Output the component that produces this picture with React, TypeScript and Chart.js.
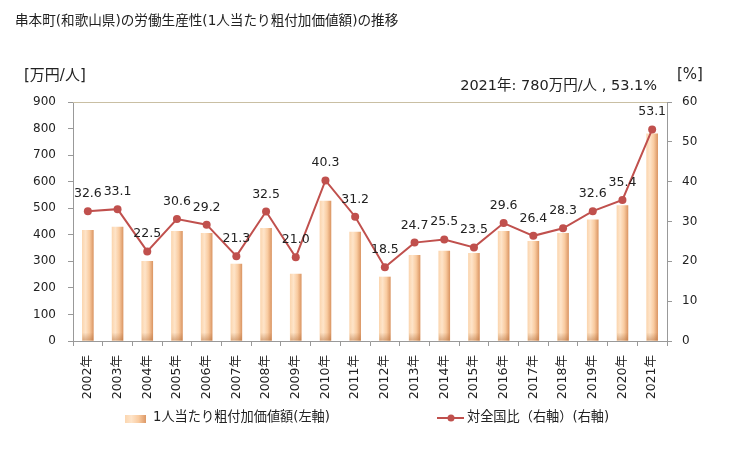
import React, { useEffect, useRef } from "react";
import { Chart, registerables } from "chart.js";

Chart.register(...registerables);

const years = ["2002年","2003年","2004年","2005年","2006年","2007年","2008年","2009年","2010年","2011年","2012年","2013年","2014年","2015年","2016年","2017年","2018年","2019年","2020年","2021年"];
const productivity = [417, 429, 300, 413, 405, 290, 424, 252, 527, 410, 241, 323, 339, 330, 413, 375, 405, 456, 510, 780];
const ratio = [32.6, 33.1, 22.5, 30.6, 29.2, 21.3, 32.5, 21.0, 40.3, 31.2, 18.5, 24.7, 25.5, 23.5, 29.6, 26.4, 28.3, 32.6, 35.4, 53.1];
const leftTicks = [0, 100, 200, 300, 400, 500, 600, 700, 800, 900];
const rightTicks = [0, 10, 20, 30, 40, 50, 60];

const titleText = "串本町(和歌山県)の労働生産性(1人当たり粗付加価値額)の推移";
const leftUnit = "[万円/人]";
const rightUnit = "[%]";
const noteText = "2021年: 780万円/人 , 53.1%";
const barLegend = "1人当たり粗付加価値額(左軸)";
const lineLegend = "対全国比（右軸）(右軸)";

const FONT = '"DejaVu Sans", "Noto Sans CJK JP", sans-serif';
const LINE_COLOR = "#c0504d";
const BAR_W = 11;

function barGradient(ctx: CanvasRenderingContext2D, x0: number, x1: number) {
  const g = ctx.createLinearGradient(x0, 0, x1, 0);
  g.addColorStop(0, "#fbd6b0");
  g.addColorStop(0.3, "#fee4c9");
  g.addColorStop(0.65, "#f9cba0");
  g.addColorStop(1, "#dc9866");
  return g;
}

export default function App() {
  const ref = useRef<HTMLCanvasElement | null>(null);

  useEffect(() => {
    document.body.style.margin = "0";
    const canvas = ref.current!;
    const overlay = {
      id: "overlay",
      afterDatasetDraw(chart: any, args: any) {
        if (args.index !== 1) return;
        const ctx = chart.ctx;
        const meta = chart.getDatasetMeta(1);
        ctx.save();
        meta.data.forEach((el: any) => {
          const x = el.x;
          const base = el.base;
          const top = el.y;
          if (!isFinite(x) || !isFinite(base) || !isFinite(top)) return;
          const h = Math.min(8, base - top);
          if (h <= 0) return;
          const g = ctx.createLinearGradient(0, base - h, 0, base);
          g.addColorStop(0, "rgba(170,100,50,0)");
          g.addColorStop(1, "rgba(170,100,50,0.45)");
          ctx.fillStyle = g;
          ctx.fillRect(x - BAR_W / 2, base - h, BAR_W, h);
        });
        ctx.restore();
      },
      afterDatasetsDraw(chart: any) {
        const ctx = chart.ctx;
        const meta = chart.getDatasetMeta(0);
        ctx.save();
        ctx.font = "12.5px " + FONT;
        ctx.fillStyle = "#222";
        ctx.textAlign = "center";
        ctx.textBaseline = "alphabetic";
        meta.data.forEach((el: any, i: number) => {
          ctx.fillText(ratio[i].toFixed(1), el.x, el.y - 14);
        });
        ctx.restore();
      },
      afterDraw(chart: any) {
        const ctx = chart.ctx;
        const area = chart.chartArea;
        ctx.save();
        ctx.strokeStyle = "#c9bfa3";
        ctx.lineWidth = 1;
        ctx.beginPath();
        ctx.moveTo(area.left, Math.round(area.top) + 0.5);
        ctx.lineTo(area.right, Math.round(area.top) + 0.5);
        ctx.stroke();

        ctx.fillStyle = "#222";
        ctx.textBaseline = "middle";
        ctx.font = "13.6px " + FONT;
        ctx.textAlign = "left";
        ctx.fillText(titleText, 15, 21);

        ctx.font = "15px " + FONT;
        ctx.fillText(leftUnit, 24, 76);
        ctx.fillText(rightUnit, 677, 75);
        ctx.textAlign = "right";
        ctx.font = "14.5px " + FONT;
        ctx.fillText(noteText, 657, 86);

        ctx.textAlign = "left";
        ctx.font = "13.2px " + FONT;
        const ly = 418;
        ctx.fillStyle = barGradient(ctx, 125, 146);
        ctx.fillRect(125, ly - 3, 21, 8);
        ctx.fillStyle = "#222";
        ctx.fillText(barLegend, 153, ly);

        ctx.strokeStyle = LINE_COLOR;
        ctx.lineWidth = 2;
        ctx.beginPath();
        ctx.moveTo(437, ly);
        ctx.lineTo(464, ly);
        ctx.stroke();
        ctx.fillStyle = LINE_COLOR;
        ctx.beginPath();
        ctx.arc(451, ly, 3.5, 0, Math.PI * 2);
        ctx.fill();
        ctx.fillStyle = "#222";
        ctx.fillText(lineLegend, 467, ly);
        ctx.restore();
      },
    };

    const chart = new Chart(canvas, {
      type: "bar",
      data: {
        labels: years,
        datasets: [
          {
            type: "line",
            label: lineLegend,
            data: ratio,
            yAxisID: "y1",
            borderColor: LINE_COLOR,
            backgroundColor: LINE_COLOR,
            borderWidth: 2,
            pointRadius: 4,
            pointBackgroundColor: LINE_COLOR,
            pointBorderWidth: 0,
            tension: 0,
            order: 0,
          } as any,
          {
            type: "bar",
            label: barLegend,
            data: productivity,
            yAxisID: "y",
            barThickness: BAR_W,
            borderWidth: 0,
            backgroundColor: (c: any) => {
              const sc = c.chart.scales && c.chart.scales.x;
              if (!sc || c.dataIndex === undefined) return "#f9cba0";
              const x = sc.getPixelForValue(c.dataIndex);
              if (!isFinite(x)) return "#f9cba0";
              return barGradient(c.chart.ctx, x - BAR_W / 2, x + BAR_W / 2);
            },
            order: 1,
          } as any,
        ],
      },
      options: {
        animation: false,
        responsive: true,
        maintainAspectRatio: false,
        layout: { padding: { top: 102, bottom: 49, left: 0, right: 0 } },
        plugins: {
          legend: { display: false },
          tooltip: { enabled: false },
          title: { display: false },
        },
        scales: {
          x: {
            grid: { display: true, drawOnChartArea: false, offset: true, tickLength: 5, color: "#999" },
            border: { color: "#999" },
            ticks: {
              minRotation: 90,
              maxRotation: 90,
              autoSkip: false,
              padding: 9,
              color: "#222",
              font: { size: 12.5, family: FONT },
            },
            afterFit: (s: any) => { s.height = 60; },
          },
          y: {
            position: "left",
            min: 0,
            max: 900,
            afterBuildTicks: (s: any) => { s.ticks = leftTicks.map((v) => ({ value: v })); },
            grid: { display: true, drawOnChartArea: false, tickLength: 5, color: "#999" },
            border: { color: "#999" },
            ticks: { padding: 12, color: "#222", font: { size: 12, family: FONT } },
            afterFit: (s: any) => { s.width = 73; },
          },
          y1: {
            position: "right",
            min: 0,
            max: 60,
            afterBuildTicks: (s: any) => { s.ticks = rightTicks.map((v) => ({ value: v })); },
            grid: { display: true, drawOnChartArea: false, tickLength: 5, color: "#999" },
            border: { color: "#999" },
            ticks: { padding: 10, color: "#222", font: { size: 12, family: FONT } },
            afterFit: (s: any) => { s.width = 62; },
          },
        },
      },
      plugins: [overlay],
    } as any);
    return () => chart.destroy();
  }, []);

  return (
    <div style={{ position: "relative", width: 729, height: 450 }}>
      <canvas ref={ref} />
    </div>
  );
}
